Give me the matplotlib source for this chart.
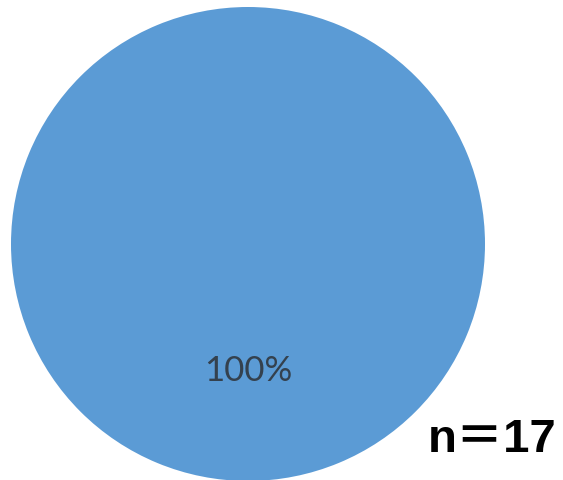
import matplotlib
matplotlib.use("Agg")
import matplotlib.pyplot as plt

# data
labels = ["All"]
values = [17]
n_total = 17

fig = plt.figure(figsize=(5.63, 4.81), dpi=100)
ax = fig.add_axes([11 / 563, -1 / 481, 474 / 563, 474 / 481])

wedges, texts, autotexts = ax.pie(
    values, startangle=90, colors=["#5b9bd5"], autopct="%1.0f%%",
    pctdistance=0.53, radius=1.0,
    textprops=dict(color="#34414e", fontsize=25, family=["Lato", "DejaVu Sans"]),
)
ax.set_xlim(-1, 1)
ax.set_ylim(-1, 1)
ax.set_aspect("auto")

fig.text(492 / 563, 1 - 440 / 481, f"n＝{n_total}", ha="center", va="center",
         fontsize=34, fontweight="bold",
         family=["Liberation Sans", "Noto Sans CJK SC"])

fig.savefig("out.png", dpi=100)
